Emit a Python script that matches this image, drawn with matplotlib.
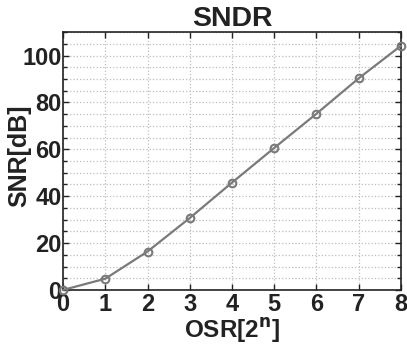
import matplotlib
matplotlib.use('Agg')
import matplotlib.pyplot as plt
from matplotlib.ticker import MultipleLocator
from matplotlib import font_manager
import numpy as np

matplotlib.rcParams['font.family'] = 'Liberation Sans'
matplotlib.rcParams['font.weight'] = 'bold'

osr_n = [0, 1, 2, 3, 4, 5, 6, 7, 8]
snr_db = [0, 4.8, 16.4, 30.7, 45.8, 60.6, 75.2, 90.3, 104.2]

line_color = '#7a7a7a'
grid_color = '#bdbdbd'
text_color = '#222222'

# tick labels look condensed in the original -> narrow face if we have it
names = set(f.name for f in font_manager.fontManager.ttflist)
narrow = 'Liberation Sans Narrow' if 'Liberation Sans Narrow' in names else 'Liberation Sans'

fig = plt.figure(figsize=(4.07, 3.46), dpi=100)
ax = fig.add_axes([0.155, 0.162, 0.83, 0.745])

ax.plot(osr_n, snr_db, color=line_color, linewidth=1.6, marker='o',
        markersize=5.5, markerfacecolor='none', markeredgecolor=line_color,
        markeredgewidth=1.5, clip_on=False, zorder=3)

ax.set_xlim(0, 8)
ax.set_ylim(0, 110)
ax.xaxis.set_major_locator(MultipleLocator(1))
ax.yaxis.set_major_locator(MultipleLocator(20))
ax.yaxis.set_minor_locator(MultipleLocator(5))

ax.grid(True, which='major', linestyle=':', color=grid_color, linewidth=0.9)
ax.grid(True, which='minor', axis='y', linestyle=':', color=grid_color, linewidth=0.9)

ax.tick_params(which='both', direction='in', top=True, right=True,
               width=1.0, color=text_color)
ax.tick_params(which='major', length=4)
ax.tick_params(which='minor', length=3)
ax.tick_params(axis='x', pad=2)
ax.tick_params(axis='y', pad=1)
for pos in ['top', 'bottom', 'right', 'left']:
    ax.spines[pos].set_color(text_color)
    ax.spines[pos].set_linewidth(1.2)

for lab in ax.get_xticklabels() + ax.get_yticklabels():
    lab.set_fontfamily(narrow)
    lab.set_fontsize(17)
    lab.set_fontweight('bold')
    lab.set_color(text_color)

ax.set_title('SNDR', fontsize=20.5, fontweight='bold', color=text_color, pad=4)
ax.set_xlabel('OSR[2$^{\\mathbf{n}}$]', fontsize=17.5, fontweight='bold', color=text_color, labelpad=0)
ax.set_ylabel('SNR[dB]', fontsize=18, fontweight='bold', color=text_color, family=narrow)
ax.yaxis.set_label_coords(-0.094, 0.52)

plt.savefig('out.png', dpi=100)
